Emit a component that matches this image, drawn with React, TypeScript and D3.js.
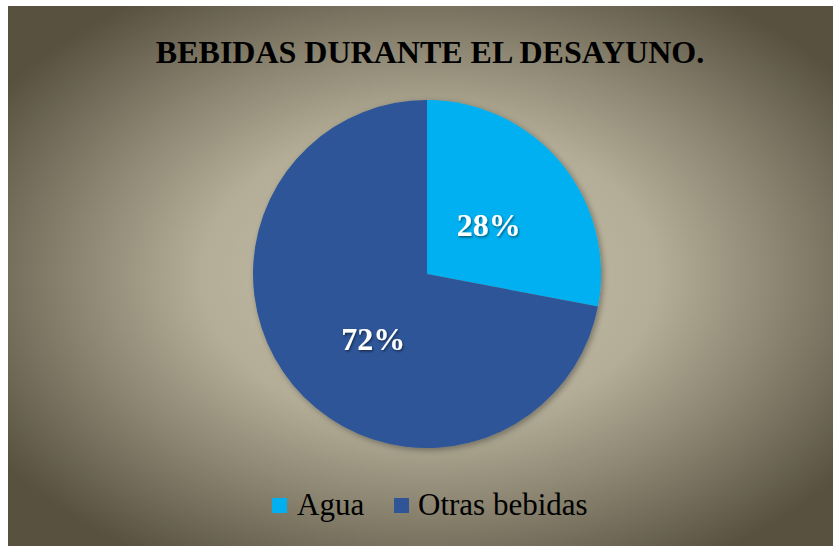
import * as d3 from 'd3';

// slice data
const categories = ['Agua', 'Otras bebidas'];
const values = [28, 72];
const colors = ['#00b0f0', '#2f5597'];

const W = 825;
const H = 540;
const FONT = 'Liberation Serif, Times New Roman, serif';

export default function App() {
  const cx = 427 - 8;
  const cy = 274 - 6;
  const R = 174;

  const pie = d3.pie<number>().sort(null).value(d => d);
  const arcs = pie(values);
  const arcGen = d3.arc<d3.PieArcDatum<number>>().innerRadius(0).outerRadius(R);
  const labelArc = d3.arc<d3.PieArcDatum<number>>().innerRadius(R * 0.46).outerRadius(R * 0.46);
  const total = d3.sum(values);
  const fmt = d3.format('.0%');

  // legend positions
  const legendX = [264, 386];

  return (
    <div style={{ position: 'absolute', left: 8, top: 6 }}>
      <svg width={W} height={H} style={{ display: 'block' }}>
        <defs>
          <radialGradient id="bg" cx="0.51" cy="0.5" r="0.62">
            <stop offset="0" stopColor="#cbc4ad" />
            <stop offset="0.45" stopColor="#b3ad97" />
            <stop offset="1" stopColor="#585140" />
          </radialGradient>
          <filter id="shadow" x="-20%" y="-20%" width="140%" height="140%">
            <feDropShadow dx="2" dy="2" stdDeviation="3" floodColor="#000" floodOpacity="0.35" />
          </filter>
          <filter id="txtShadow">
            <feDropShadow dx="1" dy="1.5" stdDeviation="1" floodColor="#000" floodOpacity="0.5" />
          </filter>
        </defs>
        <rect width={W} height={H} fill="url(#bg)" />
        <text
          x={422}
          y={57}
          textAnchor="middle"
          style={{ fontFamily: FONT, fontWeight: 'bold', fontSize: 32 }}
          fill="#000"
        >
          BEBIDAS DURANTE EL DESAYUNO.
        </text>
        <g transform={`translate(${cx},${cy})`} filter="url(#shadow)">
          {arcs.map((a, i) => (
            <path key={i} d={arcGen(a) || ''} fill={colors[i]} />
          ))}
        </g>
        <g transform={`translate(${cx},${cy})`}>
          {arcs.map((a, i) => {
            const [x, y] = labelArc.centroid(a);
            return (
              <text
                key={i}
                x={i === 0 ? x : x + 8}
                y={i === 0 ? y : y + 12}
                dy="0.4em"
                textAnchor="middle"
                style={{ fontFamily: FONT, fontWeight: 'bold', fontSize: 32 }}
                fill="#fff"
                filter="url(#txtShadow)"
              >
                {fmt(a.data / total)}
              </text>
            );
          })}
        </g>
        <g style={{ fontFamily: FONT, fontSize: 31 }} fill="#000">
          {categories.map((c, i) => (
            <g key={c} transform={`translate(${legendX[i]},500)`}>
              <rect x={0} y={-8} width={15} height={15} fill={colors[i]} />
              <text x={i === 0 ? 25 : 24} y={9}>
                {c}
              </text>
            </g>
          ))}
        </g>
      </svg>
    </div>
  );
}
